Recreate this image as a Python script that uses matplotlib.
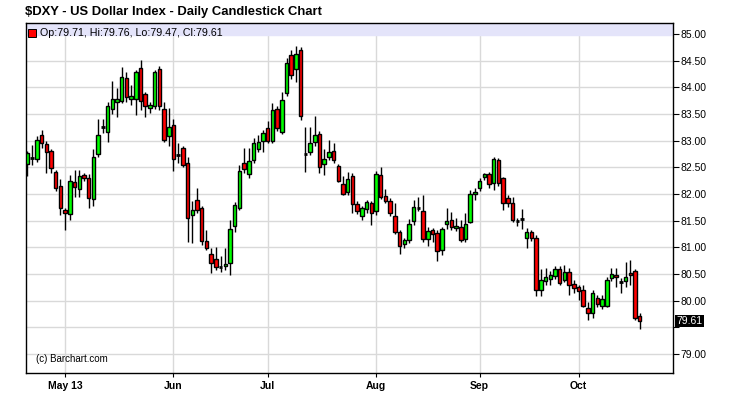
import numpy as np
import pandas as pd
import matplotlib
matplotlib.use("Agg")
import matplotlib.pyplot as plt

plt.rcParams["font.family"] = ["Liberation Sans", "DejaVu Sans"]

# daily bars, Apr 19 2013 .. Oct 18 2013 (weekdays)
dates = pd.bdate_range("2013-04-19", "2013-10-18")

opens = [82.56, 82.67, 82.65, 83.11, 82.94, 82.81, 82.41, 82.14, 81.70, 81.62,
         82.22, 82.09, 82.35, 82.29, 81.90, 82.74, 83.26, 83.17, 83.59, 83.72,
         83.74, 84.18, 83.78, 83.78, 84.36, 83.88, 83.61, 83.65, 84.34, 83.59,
         83.09, 83.29, 82.73, 82.86, 82.58, 81.60, 81.88, 81.73, 81.12, 80.87,
         80.78, 80.63, 80.64, 80.71, 81.39, 81.73, 82.58, 82.37, 82.64, 82.85,
         82.99, 83.23, 82.99, 83.59, 83.16, 83.89, 84.61, 84.34, 84.70, 82.74,
         82.78, 82.97, 83.12, 82.56, 82.69, 82.80, 82.53, 82.18, 82.04, 82.34,
         81.81, 81.59, 81.72, 81.82, 81.67, 82.36, 81.96, 81.87, 81.58, 81.28,
         81.06, 81.14, 81.49, 81.74, 81.67, 81.15, 81.32, 81.27, 80.94, 81.43,
         81.51, 81.36, 81.37, 81.15, 81.48, 81.99, 82.12, 82.31, 82.37, 82.20,
         82.63, 82.29, 81.92, 81.83, 81.49, 81.52, 81.17, 81.28, 81.17, 80.19,
         80.37, 80.40, 80.46, 80.59, 80.39, 80.53, 80.31, 80.26, 80.20, 79.86,
         79.76, 80.04, 79.90, 79.90, 80.43, 80.48, 80.34, 80.37, 80.51, 80.56,
         79.71]
highs = [82.81, 82.92, 83.08, 83.20, 82.99, 82.84, 82.45, 82.28, 81.74, 82.35,
         82.45, 82.44, 82.40, 82.37, 82.84, 83.40, 83.40, 83.73, 84.11, 83.99,
         84.38, 84.29, 84.05, 84.32, 84.51, 83.92, 83.72, 84.33, 84.40, 83.73,
         83.62, 83.40, 82.95, 82.90, 82.70, 81.86, 82.11, 81.78, 81.32, 80.98,
         81.01, 80.84, 80.98, 81.51, 81.85, 82.54, 82.86, 82.86, 83.04, 83.10,
         83.20, 83.36, 83.70, 83.64, 83.92, 84.54, 84.70, 84.78, 84.76, 83.26,
         83.26, 83.47, 83.18, 82.85, 83.01, 82.95, 82.56, 82.33, 82.42, 82.40,
         81.86, 81.78, 81.89, 81.87, 82.43, 82.50, 82.09, 81.92, 81.82, 81.33,
         81.17, 81.53, 81.89, 81.95, 81.98, 81.38, 81.36, 81.32, 81.38, 81.73,
         81.66, 81.54, 81.51, 81.64, 82.08, 82.11, 82.29, 82.40, 82.42, 82.70,
         82.67, 82.32, 81.98, 81.94, 81.55, 81.72, 81.36, 81.33, 81.23, 80.59,
         80.61, 80.55, 80.64, 80.64, 80.67, 80.61, 80.39, 80.30, 80.29, 79.98,
         80.20, 80.11, 80.10, 80.45, 80.61, 80.61, 80.42, 80.73, 80.76, 80.59,
         79.76]
lows = [82.33, 82.55, 82.60, 82.86, 82.40, 82.40, 82.06, 81.61, 81.32, 81.51,
        81.95, 81.95, 82.25, 81.73, 81.77, 82.69, 83.15, 82.97, 83.50, 83.45,
        83.70, 83.73, 83.67, 83.48, 83.57, 83.45, 83.51, 83.60, 83.58, 82.97,
        82.89, 82.43, 82.58, 82.51, 81.10, 81.08, 81.65, 81.05, 80.95, 80.51,
        80.58, 80.54, 80.58, 80.48, 81.28, 81.70, 82.40, 82.29, 82.58, 82.79,
        82.79, 82.95, 82.95, 83.18, 83.12, 83.83, 84.15, 84.09, 83.39, 82.42,
        82.73, 82.90, 82.40, 82.36, 82.64, 82.58, 82.22, 81.97, 81.98, 81.64,
        81.62, 81.51, 81.64, 81.42, 81.60, 81.90, 81.82, 81.58, 81.24, 80.88,
        80.98, 81.08, 81.41, 81.67, 81.10, 81.03, 81.10, 80.75, 80.86, 81.35,
        81.32, 81.30, 81.10, 81.10, 81.45, 81.89, 82.05, 82.26, 82.11, 82.08,
        82.14, 81.69, 81.75, 81.48, 81.40, 81.35, 80.98, 81.11, 80.08, 80.08,
        80.30, 80.29, 80.40, 80.30, 80.34, 80.11, 80.15, 80.01, 79.87, 79.64,
        79.67, 79.88, 79.85, 79.88, 80.36, 80.26, 80.14, 80.26, 80.29, 79.64,
        79.47]
closes = [82.76, 82.67, 83.02, 82.95, 82.78, 82.48, 82.11, 81.73, 81.64, 82.25,
          82.13, 82.33, 82.29, 81.93, 82.70, 83.11, 83.26, 83.65, 83.78, 83.78,
          84.20, 83.81, 83.83, 84.28, 83.75, 83.64, 83.66, 84.28, 83.65, 83.01,
          83.26, 82.65, 82.73, 82.54, 81.54, 81.69, 81.70, 81.11, 80.98, 80.70,
          80.63, 80.63, 80.68, 81.34, 81.79, 82.43, 82.46, 82.62, 82.95, 82.97,
          83.14, 82.99, 83.58, 83.23, 83.76, 84.45, 84.23, 84.62, 83.46, 82.74,
          82.95, 83.10, 82.50, 82.65, 82.78, 82.64, 82.24, 82.00, 82.28, 81.81,
          81.67, 81.73, 81.84, 81.65, 82.37, 81.94, 81.86, 81.64, 81.28, 81.03,
          81.13, 81.43, 81.76, 81.74, 81.15, 81.30, 81.25, 80.92, 81.34, 81.49,
          81.38, 81.40, 81.14, 81.43, 81.99, 82.04, 82.25, 82.37, 82.18, 82.65,
          82.20, 81.83, 81.83, 81.51, 81.49, 81.52, 81.28, 81.17, 80.19, 80.39,
          80.44, 80.48, 80.59, 80.33, 80.54, 80.29, 80.23, 80.17, 79.90, 79.76,
          80.14, 79.93, 80.03, 80.39, 80.49, 80.44, 80.34, 80.44, 80.47, 79.67,
          79.61]

y_ticks = np.arange(79.0, 85.01, 0.5)
header = "Op:79.71, Hi:79.76, Lo:79.47, Cl:79.61"
last_close = "79.61"

o = np.array(opens)
h = np.array(highs)
l = np.array(lows)
c = np.array(closes)
x = np.arange(len(dates))

fig = plt.figure(figsize=(7.29, 3.97), dpi=100)
ax = fig.add_axes([0.0351, 0.0612, 0.8877, 0.8801])

up = c > o
down = c < o
flat = ~(up | down)
w = 0.74

ax.vlines(x, l, h, color="black", linewidth=1.0, zorder=2)
ax.bar(x[up], (c - o)[up], bottom=o[up], width=w, color="#00ff00",
       edgecolor="black", linewidth=1.0, zorder=3)
ax.bar(x[down], (o - c)[down], bottom=c[down], width=w, color="#ff0000",
       edgecolor="black", linewidth=1.0, zorder=3)
ax.hlines(c[flat], x[flat] - w / 2, x[flat] + w / 2, color="black",
          linewidth=2.0, zorder=3)

ax.set_xlim(-0.4, 137.0)
ax.set_ylim(78.646, 85.2)

# month ticks
months = pd.Series(dates.month)
first = x[(months != months.shift()).to_numpy()][1:]
labels = [dates[i].strftime("%b") for i in first]
labels[0] = labels[0] + " 13"
ax.set_xticks(first)
ax.set_xticklabels(labels, fontsize=7.5, fontweight="bold")
ax.set_yticks(y_ticks)
# the last-price box sits over the 79.50 label
ylabels = [f"{v:.2f}" for v in y_ticks]
ylabels[1] = ""
ax.set_yticklabels(ylabels, fontsize=7.5)
ax.yaxis.tick_right()
ax.tick_params(axis="y", length=4, width=0.8, pad=1.5, colors="black")
ax.tick_params(axis="x", length=3, width=0.8, pad=3)
ax.grid(True, color="#d9d9d9", linewidth=1.0, zorder=0)
ax.set_axisbelow(True)
for sp in ax.spines.values():
    sp.set_linewidth(1.0)

# header band
ax.axhspan(84.98, 85.2, color="#e4e4fa", zorder=1)
ax.plot([0.01], [0.972], marker="s", ms=5.5, mfc="#ff0000", mec="black",
        mew=0.7, transform=ax.transAxes, clip_on=False, zorder=4)
ax.text(0.023, 0.972, header, transform=ax.transAxes, fontsize=7.7,
        va="center", ha="left")

ax.text(0.016, 0.038, "(c) Barchart.com", transform=ax.transAxes,
        fontsize=7, va="center", ha="left")

ax.text(1.006, c[-1], last_close, transform=ax.get_yaxis_transform(),
        fontsize=7.5, color="white", va="center", ha="left",
        bbox=dict(facecolor="black", edgecolor="none", pad=0.8))

fig.text(25 / 729, 1 - 12 / 397, "$DXY - US Dollar Index - Daily Candlestick Chart",
         fontsize=9.4, fontweight="bold", va="center", ha="left")

fig.savefig("out.png", dpi=100)
